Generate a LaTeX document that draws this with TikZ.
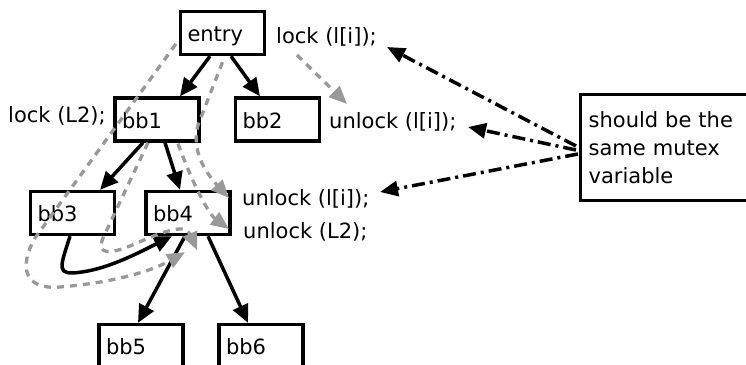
\documentclass[tikz,border=0pt]{standalone}
\usepackage{fontspec}
\setmainfont{DejaVu Sans}
\usetikzlibrary{arrows.meta,calc}
\definecolor{flowgray}{RGB}{153,153,153}
\begin{document}
\begin{tikzpicture}[x=1pt,y=-1pt,
  font=\fontsize{21}{28}\selectfont,
  block/.style={draw, line width=3.3pt, minimum width=84pt, minimum height=43pt,
    text width=70pt, inner xsep=7pt, align=left, text height=20pt, text depth=3pt},
  notebox/.style={text width=204pt, inner xsep=8pt,
    align=left, minimum height=106pt, anchor=west, outer sep=1.65pt},
  lbl/.style={inner sep=0pt, anchor=base west},
  frame/.style={line width=3.3pt},
  flow/.style={line width=3.5pt, -{Triangle[length=18pt,width=16pt]}},
  trace/.style={line width=3.3pt, flowgray, dash pattern=on 7pt off 6pt,
    -{Triangle[length=18pt,width=15pt]}},
  hint/.style={line width=3.5pt, dash pattern=on 13pt off 5pt on 3pt off 5pt,
    -{Triangle[length=18pt,width=15pt]}}]
\useasboundingbox (0,0) rectangle (746,364);
\clip (0,0) rectangle (746,364);

% basic blocks of the control flow graph (bb5 and bb6 run past the bottom edge)
\node[block] (entry) at (222.5,33) {entry};
\node[block] (bb1) at (157,119.5) {bb1};
\node[block] (bb2) at (277.5,119.5) {bb2};
\node[block] (bb3) at (72.5,213) {bb3};
\node[block] (bb4) at (188,213) {bb4};
\node[block] (bb5) at (141,346) {bb5};
\node[block] (bb6) at (261,346) {bb6};

% lock / unlock statements
\node[lbl] (lockA) at (276,43) {lock (l[i]);};
\node[lbl] (lockB) at (8,122) {lock (L2);};
\node[lbl] (unlockA) at (329,128) {unlock (l[i]);};
\node[lbl] (unlockB) at (242,205) {unlock (l[i]);};
\node[lbl] (unlockC) at (243,238) {unlock (L2);};

% remark; its box runs on past the right border of the picture
\node[notebox] (note) at (579,147.5) {should be the\\same mutex\\variable};
\draw[frame] ($(note.north west)+(170,1.65)$) -- ($(note.north west)+(1.65,1.65)$)
  -- ($(note.south west)+(1.65,-1.65)$) -- ($(note.south west)+(170,-1.65)$);

% control flow edges
\draw[flow] ([xshift=-12.5pt]entry.south) -- ([xshift=23pt]bb1.north);
\draw[flow] ([xshift=8.5pt]entry.south) -- ([xshift=-17.5pt]bb2.north);
\draw[flow] ([xshift=-14pt]bb1.south) -- ([xshift=27.5pt]bb3.north);
\draw[flow] ([xshift=8pt]bb1.south) -- ([xshift=-8pt]bb4.north);
\draw[flow] ([xshift=-3pt]bb4.south) -- ([xshift=-3pt]bb5.north);
\draw[flow] ([xshift=20pt]bb4.south) -- ([xshift=-13pt]bb6.north);
\draw[flow] ([xshift=-2.5pt]bb3.south) .. controls (60,268) and (55,276) .. (82,272)
  .. controls (110,268) and (140,252) .. ([xshift=-16pt]bb4.south);

% lock-to-unlock paths
\draw[trace] ($(lockA.base west)+(21,12)$) -- ($(unlockA.base west)+(18,-24)$);
\draw[trace] ($(entry.west)+(-3,11)$) -- (35,238) .. controls (18,268) and (25,290) .. (60,287)
  .. controls (110,283) and (150,272) .. ($(bb4.south)+(-3,16)$);
\draw[trace] ($(bb1.south)+(-9,0)$) -- (103,238) .. controls (96,255) and (110,254) .. (130,246)
  .. controls (160,233) and (185,222) .. ($(bb4.south)+(9,14)$);
\draw[trace] ($(entry.south)+(0,6)$) -- (198,125) .. controls (191,150) and (205,172)
  .. ($(unlockB.base west)+(-13,-7)$);
\draw[trace] ($(bb1.south)+(21,1)$) .. controls (195,190) and (210,215)
  .. ($(unlockC.base west)+(-14,-9)$);

% pointers from the remark
\draw[hint] ($(note.west)+(-3,-1.5)$) -- ($(lockA.base west)+(111,4)$);
\draw[hint] ($(note.west)+(-3,2.5)$) -- ($(unlockA.base west)+(139,-1)$);
\draw[hint] ($(note.west)+(-1,6.5)$) -- ($(unlockB.base west)+(138,-13)$);
\end{tikzpicture}
\end{document}
